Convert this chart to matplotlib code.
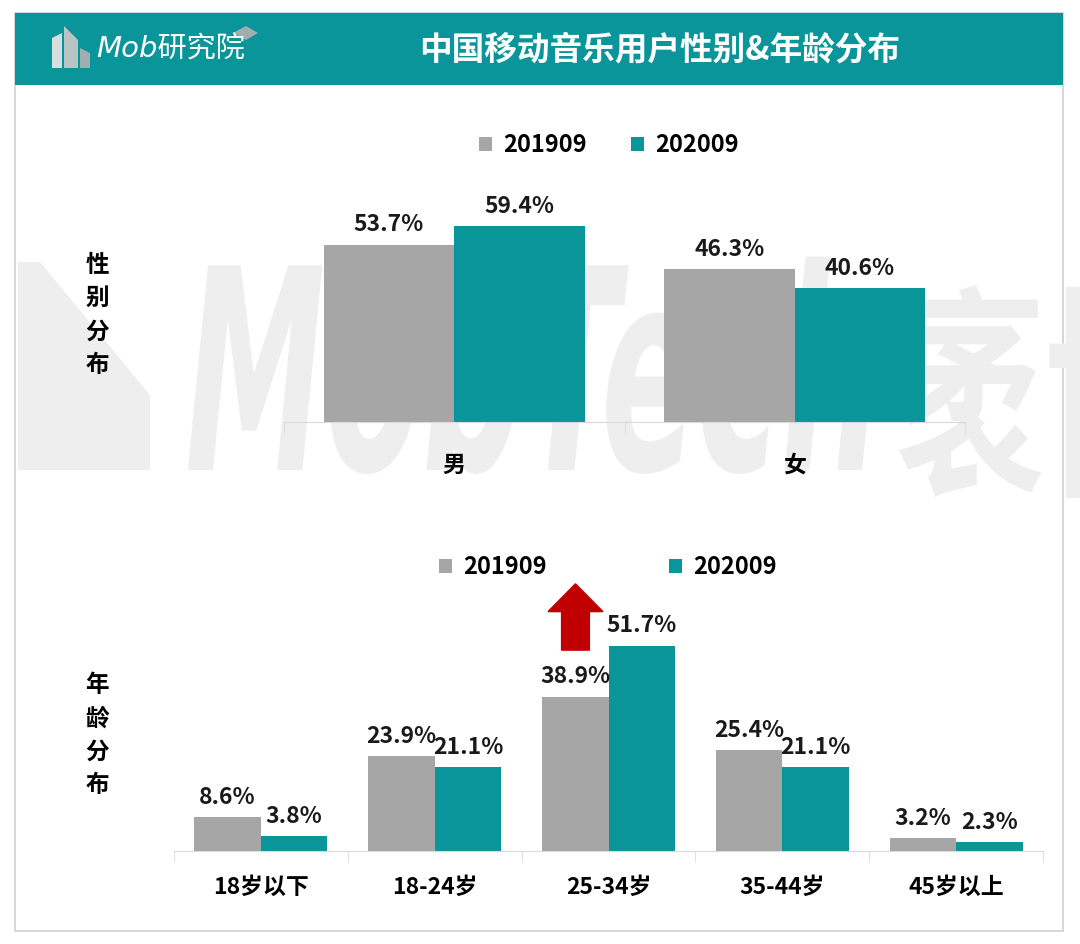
import matplotlib
matplotlib.use("Agg")
import matplotlib.pyplot as plt
import numpy as np
from matplotlib.patches import Rectangle, Polygon, PathPatch, FancyArrow
from matplotlib.textpath import TextPath
from matplotlib.font_manager import FontProperties
from matplotlib.transforms import Affine2D

plt.rcParams['font.family'] = ['Noto Sans CJK SC', 'DejaVu Sans']

# data
title = "中国移动音乐用户性别&年龄分布"
series = ["201909", "202009"]
gender_cats = ["男", "女"]
gender_2019 = [53.7, 46.3]
gender_2020 = [59.4, 40.6]
age_cats = ["18岁以下", "18-24岁", "25-34岁", "35-44岁", "45岁以上"]
age_2019 = [8.6, 23.9, 38.9, 25.4, 3.2]
age_2020 = [3.8, 21.1, 51.7, 21.1, 2.3]

GRAY = "#A6A6A6"
TEAL = "#0A959A"
W, H = 1080, 944

fig = plt.figure(figsize=(W / 100, H / 100), dpi=100)


def fx(px):
    return px / W


def fy(py):
    return 1 - py / H


def fig_poly(pts, color, z):
    fig.patches.append(Polygon([(fx(a), fy(b)) for a, b in pts], transform=fig.transFigure,
                               fc=color, ec="none", zorder=z))


# frame + header
fig.patches.append(Rectangle((fx(15), fy(931)), fx(1063) - fx(15), fy(13) - fy(931),
                             transform=fig.transFigure, fill=False, ec="#D0D0D0", lw=1.2, zorder=-2))
fig.patches.append(Rectangle((fx(15), fy(85)), fx(1063) - fx(15), fy(13) - fy(85),
                             transform=fig.transFigure, fc=TEAL, ec="none", zorder=1))

# logo
fig_poly([(52, 68), (52, 38), (62, 33), (62, 68)], "#D6DEDE", 2)
fig_poly([(64, 68), (64, 26), (78, 40), (78, 68)], "#B9C4C4", 2)
fig_poly([(80, 68), (80, 48), (90, 53), (90, 68)], "#9FAEAE", 2)
fig_poly([(233, 33), (246, 26), (258, 33), (246, 40)], "#9FAEAE", 2)
fig.text(fx(96), fy(50), "Mob研究院", color="white", fontsize=21, style="italic",
         family=['DejaVu Sans', 'Noto Sans CJK SC'], ha="left", va="center", zorder=3)
fig.text(fx(660), fy(50), title, color="white", fontsize=23.5, fontweight="bold",
         ha="center", va="center", zorder=3)

# watermark
wm_color = "#EEEEEE"
fp_lat = FontProperties(family="DejaVu Sans", weight="bold", style="italic")
fp_cjk = FontProperties(family="Noto Sans CJK SC", weight="bold")
tp = TextPath((0, 0), "MobTech", size=1, prop=fp_lat)
fig.patches.append(PathPatch(tp, transform=Affine2D().scale(141 / W, 281 / H).translate(fx(185), fy(470))
                             + fig.transFigure, fc=wm_color, ec="none", zorder=-1))
tp2 = TextPath((0, 0), "袤博", size=1, prop=fp_cjk)
fig.patches.append(PathPatch(tp2, transform=Affine2D().scale(150 / W, 225 / H).translate(fx(895), fy(478))
                             + fig.transFigure, fc=wm_color, ec="none", zorder=-1))
fig_poly([(18, 470), (18, 262), (40, 262), (150, 395), (150, 470)], wm_color, -1)

w = 0.383


def draw(ax, cats, v1, v2, pad):
    x = np.arange(len(cats))
    b1 = ax.bar(x - w / 2, v1, w, color=GRAY, label=series[0], zorder=2)
    b2 = ax.bar(x + w / 2, v2, w, color=TEAL, label=series[1], zorder=2)
    for bars, vals in ((b1, v1), (b2, v2)):
        for b, v in zip(bars, vals):
            ax.annotate(f"{v:.1f}%", (b.get_x() + b.get_width() / 2, v), xytext=(0, 6),
                        textcoords="offset points", ha="center", va="bottom",
                        fontsize=16.5, fontweight="bold", color="#1A1A1A")
    ax.set_xlim(-0.5, len(cats) - 0.5)
    ax.set_ylim(0, 73.3)
    ax.patch.set_visible(False)
    for s in ("top", "left", "right"):
        ax.spines[s].set_visible(False)
    ax.spines["bottom"].set_color("#D9D9D9")
    ax.set_yticks([])
    ax.set_xticks(x)
    ax.set_xticklabels(cats, fontsize=16.5, fontweight="bold")
    ax.set_xticks(np.arange(len(cats) + 1) - 0.5, minor=True)
    ax.tick_params(axis="x", which="major", length=0, pad=pad)
    ax.tick_params(axis="x", which="minor", length=8, color="#D9D9D9")
    return b1, b2


ax1 = fig.add_axes([fx(284), fy(422), fx(965) - fx(284), fy(180) - fy(422)], zorder=1)
h1 = draw(ax1, gender_cats, gender_2019, gender_2020, 23)
ax2 = fig.add_axes([fx(174), fy(851), fx(1043) - fx(174), fy(560) - fy(851)], zorder=1)
h2 = draw(ax2, age_cats, age_2019, age_2020, 18)

leg_kw = dict(loc="center", ncol=2, frameon=False, handlelength=0.55, handleheight=0.55,
              handletextpad=0.45, prop=dict(size=17, weight="bold"))
fig.legend(h1, series, bbox_to_anchor=(fx(609), fy(145)), columnspacing=1.9, **leg_kw)
fig.legend(h2, series, bbox_to_anchor=(fx(608), fy(567)), columnspacing=5.2, **leg_kw)

# red arrow over 25-34
ax2.add_patch(FancyArrow(1.81, 50.6, 0, 16.7, width=0.16, head_width=0.316, head_length=7.0,
                         length_includes_head=True, color="#C00000", clip_on=False, zorder=3))

# side labels
fig.text(fx(97), fy(315), "性\n别\n分\n布", fontsize=17, fontweight="bold", ha="center",
         va="center", linespacing=1.5)
fig.text(fx(97), fy(735), "年\n龄\n分\n布", fontsize=17, fontweight="bold", ha="center",
         va="center", linespacing=1.5)

fig.savefig("out.png", dpi=100)
